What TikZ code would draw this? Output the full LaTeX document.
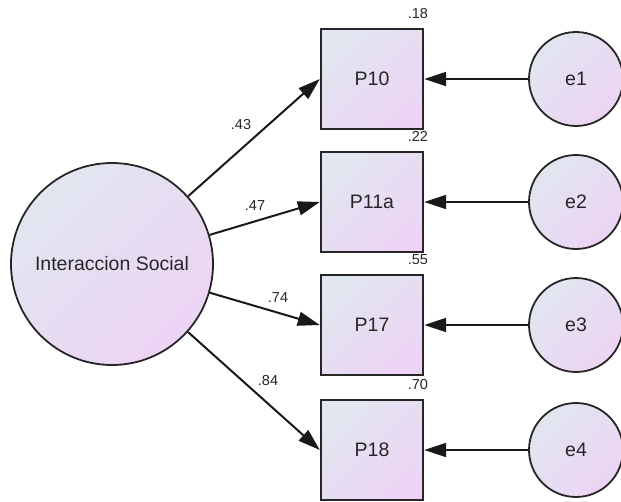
\documentclass[tikz,border=0pt]{standalone}
\usepackage{fontspec}
\setmainfont{Liberation Sans}
\usetikzlibrary{arrows.meta, positioning}
\definecolor{fillA}{RGB}{225,230,240}
\definecolor{fillB}{RGB}{237,212,244}

\begin{document}
\begin{tikzpicture}[x=1pt, y=-1pt,
        basic/.style  = {draw=black!85, line width=1.8pt, top color=fillA, bottom color=fillB,
                         shading angle=45, text=black!85, font=\fontsize{19.5}{22}\selectfont, inner sep=0pt},
        latent/.style = {basic, circle, minimum size=202pt},
        error/.style  = {basic, circle, minimum size=94pt},
        item/.style   = {basic, rectangle, minimum width=102pt, minimum height=100pt, line width=2.4pt},
        coef/.style   = {text=black!85, font=\fontsize{14.5}{16}\selectfont, inner sep=0pt},
        path/.style   = {-{Triangle[length=22pt,width=14pt]}, line width=2pt, draw=black!90}]

    \useasboundingbox (0,0) rectangle (621,501);

    % the latent factor
    \node[latent] (is) at (112,264) {Interaccion Social};

    % observed items, their error terms and squared multiple correlations
    \foreach \i/\y/\name/\rsq in {1/79/P10/.18, 2/202/P11a/.22, 3/325/P17/.55, 4/450/P18/.70} {
        \node[item] (p\i) at (372,\y) {\name};
        \node[error] (e\i) at (576,\y) {e\i};
        \node[coef, anchor=base east] (r\i) at ([xshift=4pt, yshift=9pt]p\i.north east) {\rsq};
    }

    % loadings
    \node[coef] (l1) at (241,125) {.43};
    \node[coef] (l2) at (255,206) {.47};
    \node[coef] (l3) at (278,298) {.74};
    \node[coef] (l4) at (268,381) {.84};

    % arrows from the factor and from the errors
    \foreach \i in {1,2,3,4} {
        \draw[path] (is) -- (p\i.west);
        \draw[path] (e\i) -- (p\i.east);
    }

\end{tikzpicture}
\end{document}
